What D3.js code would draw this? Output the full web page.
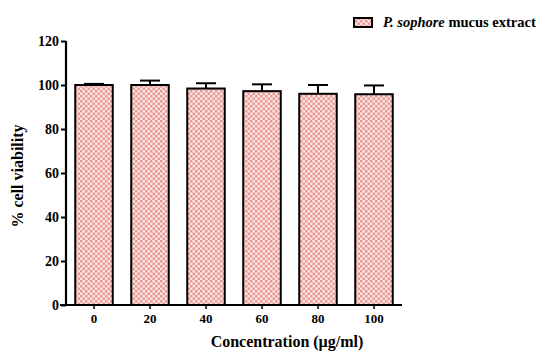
<!DOCTYPE html>
<html><head><meta charset="utf-8">
<script src="https://cdn.jsdelivr.net/npm/d3@7"></script>
<style>body{margin:0;background:#fff}svg{display:block}</style>
</head><body><svg id="c" width="550" height="362"></svg>
<script>
const categories = ["0","20","40","60","80","100"];
const values = [100, 100, 98.4, 97.2, 96.0, 95.8];
const errors = [0.5, 2.0, 2.4, 3.1, 4.0, 4.0];
const yTicks = [0,20,40,60,80,100,120];
const seriesName = ["P. sophore", " mucus extract"];
const FONT = "'Liberation Serif', 'Times New Roman', Times, serif";

const svg = d3.select("#c");
const defs = svg.append("defs");
const pat = defs.append("pattern").attr("id","chk").attr("patternUnits","userSpaceOnUse")
  .attr("width",5).attr("height",5);
pat.append("rect").attr("width",5).attr("height",5).attr("fill","#fde2e2");
pat.append("rect").attr("width",2.5).attr("height",2.5).attr("fill","#e89a9a");
pat.append("rect").attr("x",2.5).attr("y",2.5).attr("width",2.5).attr("height",2.5).attr("fill","#e89a9a");

const x = d3.scaleBand().domain(categories).range([66,402]).paddingInner(0.33).paddingOuter(0.165);
const y = d3.scaleLinear().domain([0,120]).range([305,41]);

const g = svg.append("g");
categories.forEach((c,i)=>{
  const cx = x(c)+x.bandwidth()/2;
  g.append("line").attr("x1",cx).attr("x2",cx).attr("y1",y(values[i])).attr("y2",y(values[i]+errors[i]))
    .attr("stroke","#000").attr("stroke-width",2);
  g.append("line").attr("x1",cx-10).attr("x2",cx+10).attr("y1",y(values[i]+errors[i])).attr("y2",y(values[i]+errors[i]))
    .attr("stroke","#000").attr("stroke-width",2);
  g.append("rect").attr("x",x(c)).attr("y",y(values[i])).attr("width",x.bandwidth()).attr("height",y(0)-y(values[i]))
    .attr("fill","url(#chk)").attr("stroke","#000").attr("stroke-width",2);
});

const ya = svg.append("g").attr("transform","translate(66,0)")
  .call(d3.axisLeft(y).tickValues(yTicks).tickSize(5).tickPadding(2));
ya.select(".domain").attr("stroke-width",2.2).attr("d","M0,41V306");
ya.selectAll(".tick line").attr("stroke-width",2);
ya.selectAll(".tick text").attr("dy","0.35em");

const xa = svg.append("g").attr("transform","translate(0,305)")
  .call(d3.axisBottom(x).tickSize(4).tickPadding(5));
xa.select(".domain").attr("stroke-width",2.2).attr("d","M60,0H402");
xa.selectAll(".tick line").attr("stroke-width",1.5);

[ya, xa].forEach(a => a.attr("font-family", FONT).attr("font-weight","bold"));
ya.attr("font-size", 14);
xa.attr("font-size", 13);

svg.append("text").attr("x",287).attr("y",347).attr("text-anchor","middle")
  .attr("font-family",FONT).attr("font-weight","bold").attr("font-size",16)
  .text("Concentration (\u00b5g/ml)");
svg.append("text").attr("transform","translate(23,176) rotate(-90)").attr("text-anchor","middle")
  .attr("font-family",FONT).attr("font-weight","bold").attr("font-size",16)
  .text("% cell viability");

svg.append("rect").attr("x",354).attr("y",18).attr("width",18).attr("height",9)
  .attr("fill","url(#chk)").attr("stroke","#000").attr("stroke-width",2);
const lt = svg.append("text").attr("x",383).attr("y",27)
  .attr("font-family",FONT).attr("font-weight","bold").attr("font-size",14.5);
lt.append("tspan").attr("font-style","italic").text(seriesName[0]);
lt.append("tspan").text(seriesName[1]);
</script></body></html>
